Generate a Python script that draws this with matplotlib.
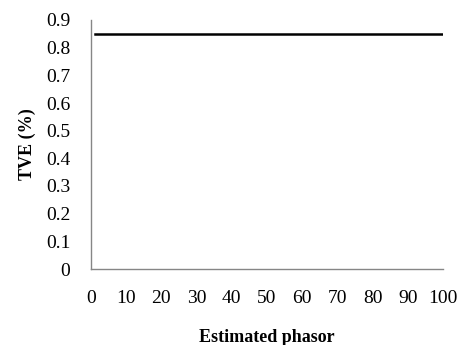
import matplotlib
matplotlib.use("Agg")
import matplotlib.pyplot as plt

# TVE of each estimated phasor (flat over the whole run)
phasor = [1, 100]
tve = [0.85, 0.85]

xticks = [0, 10, 20, 30, 40, 50, 60, 70, 80, 90, 100]
yticks = [0, 0.1, 0.2, 0.3, 0.4, 0.5, 0.6, 0.7, 0.8, 0.9]

plt.rcParams['font.family'] = ['Liberation Serif', 'DejaVu Serif']

fig = plt.figure(figsize=(4.59, 3.45), dpi=100)
ax = fig.add_axes([91 / 459, 1 - 269 / 345, (443 - 91) / 459, (269 - 20) / 345])

ax.plot(phasor, tve, color='black', linewidth=1.8)

ax.set_xlim(0, 100)
ax.set_ylim(0, 0.9)
ax.set_xticks(xticks)
ax.set_xticklabels([str(t) for t in xticks])
ax.set_yticks(yticks)
ax.set_yticklabels(['0'] + ['%.1f' % t for t in yticks[1:]])
ax.tick_params(length=0, labelsize=14)
ax.tick_params(axis='x', pad=15)
ax.tick_params(axis='y', pad=15)

for side in ['top', 'right']:
    ax.spines[side].set_visible(False)
for side in ['left', 'bottom']:
    ax.spines[side].set_color('#868686')
    ax.spines[side].set_linewidth(1.0)

ax.set_xlabel('Estimated phasor', fontsize=13, fontweight='bold', labelpad=16)
ax.set_ylabel('TVE (%)', fontsize=13, fontweight='bold', labelpad=7)

fig.savefig('out.png', dpi=100)
